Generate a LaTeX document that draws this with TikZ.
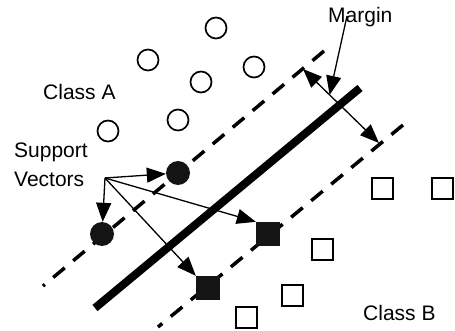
\documentclass[tikz,border=0pt]{standalone}
\usepackage{fontspec}
\setmainfont{Liberation Sans}
\usetikzlibrary{arrows.meta,calc}
\begin{document}
\begin{tikzpicture}[x=1pt,y=-1pt,
  opencirc/.style={circle, draw, line width=1.7pt, minimum size=21pt, inner sep=0},
  svcirc/.style={circle, fill=black!92, minimum size=24pt, inner sep=0},
  opensq/.style={rectangle, draw, line width=2pt, minimum size=21pt, inner sep=0},
  svsq/.style={rectangle, fill=black!92, minimum size=24pt, inner sep=0},
  lbl/.style={font=\fontsize{21}{24}\selectfont, inner sep=0, anchor=base west},
  arr/.style={line width=1.3pt, -{Triangle[length=19pt,width=15pt]}},
  dbl/.style={line width=1.3pt, {Triangle[length=19pt,width=15pt]}-{Triangle[length=19pt,width=15pt]}},
  dashline/.style={line width=3.5pt, dash pattern=on 15pt off 11pt},
  thickline/.style={line width=8pt}]
\useasboundingbox (0,0) rectangle (455,331);
% margin lines and hyperplane
\coordinate (u1) at (324,51);
\coordinate (u2) at (43,286);
\coordinate (l1) at (403,125);
\coordinate (l2) at (158,327);
\coordinate (h1) at (360,88);
\coordinate (h2) at (95,308);
\draw[dashline] (u1) -- (u2);
\draw[dashline] (l1) -- (l2);
\draw[thickline] (h1) -- (h2);
% class A
\node[opencirc] (a1) at (216,28) {};
\node[opencirc] (a2) at (148,60) {};
\node[opencirc] (a3) at (254,67) {};
\node[opencirc] (a4) at (201,82) {};
\node[opencirc] (a5) at (178,120) {};
\node[opencirc] (a6) at (108,131) {};
\node[svcirc] (s1) at (178,173) {};
\node[svcirc] (s2) at (102,234) {};
% class B
\node[opensq] (b1) at (382,189) {};
\node[opensq] (b2) at (442,189) {};
\node[opensq] (b3) at (322,249) {};
\node[opensq] (b4) at (292,295) {};
\node[opensq] (b5) at (246,317) {};
\node[svsq] (q1) at (268,234) {};
\node[svsq] (q2) at (208,288) {};
% labels
\node[lbl] (clA) at (43,100) {Class A};
\node[lbl] (clB) at (363,320) {Class B};
\node[lbl] (sup) at (14,158) {Support};
\node[lbl] (vec) at (14,187) {Vectors};
\node[lbl] (mar) at (328,23) {Margin};
% support vector arrows
\coordinate (sv) at (105,178);
\draw[arr] (sv) -- (s1);
\draw[arr] (sv) -- (s2);
\draw[arr] (sv) -- (q1.north west);
\draw[arr] (sv) -- (q2.north west);
% margin arrows
\coordinate (mA) at (303,69);
\coordinate (mB) at (379,143);
\draw[dbl] (mA) -- (mB);
\coordinate (mtop) at (347,16);
\coordinate (mtip) at ($(mA)!0.35!(mB)$);
\draw[arr] (mtop) -- (mtip);
\end{tikzpicture}
\end{document}
